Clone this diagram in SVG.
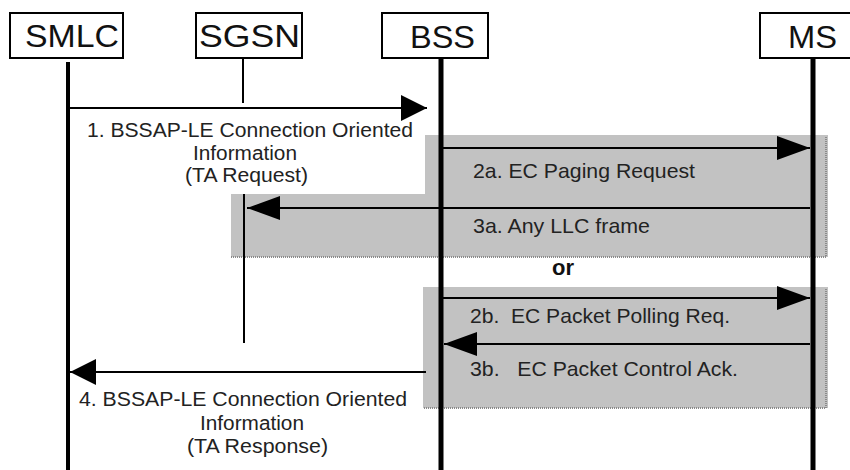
<svg xmlns="http://www.w3.org/2000/svg" width="850" height="470" viewBox="0 0 850 470">
  <style>
    .box { fill: #ffffff; stroke: #000000; stroke-width: 2; }
    .title { font-family: "Liberation Sans", Arial, sans-serif; font-size: 31px; fill: #111111; }
    .lbl { font-family: "Liberation Sans", Arial, sans-serif; font-size: 20px; fill: #222222; }
    .lbl2 { font-family: "Liberation Sans", Arial, sans-serif; font-size: 21px; fill: #222222; }
    .or { font-family: "Liberation Sans", Arial, sans-serif; font-size: 22px; font-weight: bold; fill: #111111; }
    .life { stroke: #000000; stroke-width: 5; fill: none; }
    .thin { stroke: #000000; stroke-width: 2; fill: none; }
    .msg { stroke: #000000; stroke-width: 2.2; fill: none; }
    .msgS { stroke: #000000; stroke-width: 2.2; fill: none; marker-end: url(#headS); }
    .msgL { stroke: #000000; stroke-width: 2.2; fill: none; marker-end: url(#headL); }
    .shade { fill: #c2c2c2; stroke: none; }
    .dots { stroke: #8a8a8a; stroke-width: 2; stroke-dasharray: 1 1; fill: none; }
  </style>
  <defs>
    <marker id="headS" markerUnits="userSpaceOnUse" markerWidth="27" markerHeight="27" refX="26" refY="13" orient="auto">
      <path d="M0,0 L26,13 L0,26 z" fill="#000000"/>
    </marker>
    <marker id="headL" markerUnits="userSpaceOnUse" markerWidth="34" markerHeight="25" refX="33" refY="12" orient="auto">
      <path d="M0,0 L33,12 L0,24 z" fill="#000000"/>
    </marker>
  </defs>

  <g id="shaded-regions">
    <polygon class="shade" points="425,135 828,135 828,257 231,257 231,194 425,194"/>
    <polyline class="dots" points="826,137 826,257 231,257"/>
    <rect class="shade" x="423" y="287" width="405" height="121"/>
    <polyline class="dots" points="826,289 826,408 423,408"/>
  </g>

  <g id="node-smlc">
    <rect class="box" x="10" y="13" width="113" height="45"/>
    <text class="title" x="25" y="47" textLength="94" lengthAdjust="spacingAndGlyphs">SMLC</text>
    <line class="life" x1="68" y1="62" x2="68" y2="470" style="stroke-width:4"/>
  </g>
  <g id="node-sgsn">
    <rect class="box" x="196" y="13" width="106" height="45"/>
    <text class="title" x="199" y="47" textLength="101" lengthAdjust="spacingAndGlyphs">SGSN</text>
    <line class="thin" x1="243" y1="58" x2="243" y2="103"/>
    <line class="thin" x1="244" y1="194" x2="244" y2="343"/>
  </g>
  <g id="node-bss">
    <rect class="box" x="382" y="13" width="106" height="45"/>
    <text class="title" x="410" y="48" textLength="65" lengthAdjust="spacingAndGlyphs">BSS</text>
    <line class="life" x1="441" y1="58" x2="441" y2="470"/>
  </g>
  <g id="node-ms">
    <rect class="box" x="760" y="13" width="100" height="45"/>
    <text class="title" x="788" y="48" textLength="49" lengthAdjust="spacingAndGlyphs">MS</text>
    <line class="life" x1="813" y1="58" x2="813" y2="470"/>
  </g>

  <g id="connectors">
    <line class="msgS" x1="68" y1="108" x2="427" y2="108"/>
    <line class="msgL" x1="443" y1="148" x2="810" y2="148"/>
    <line class="msgL" x1="810" y1="208" x2="247" y2="208"/>
    <line class="msgL" x1="443" y1="298" x2="810" y2="298"/>
    <line class="msgL" x1="810" y1="344" x2="444" y2="344"/>
    <line class="msgS" x1="426" y1="372" x2="70" y2="372"/>
  </g>

  <g id="labels">
    <text class="lbl" x="87" y="137" textLength="326" lengthAdjust="spacingAndGlyphs">1. BSSAP-LE Connection Oriented</text>
    <text class="lbl" x="193" y="160" textLength="104" lengthAdjust="spacingAndGlyphs">Information</text>
    <text class="lbl" x="185" y="182" textLength="123" lengthAdjust="spacingAndGlyphs">(TA Request)</text>
    <text class="lbl2" x="473" y="178" textLength="222" lengthAdjust="spacingAndGlyphs">2a. EC Paging Request</text>
    <text class="lbl2" x="473" y="233" textLength="177" lengthAdjust="spacingAndGlyphs">3a. Any LLC frame</text>
    <text class="or" x="552" y="275">or</text>
    <text class="lbl2" x="470" y="323" textLength="260" lengthAdjust="spacingAndGlyphs" xml:space="preserve">2b.  EC Packet Polling Req.</text>
    <text class="lbl2" x="470" y="376" textLength="268" lengthAdjust="spacingAndGlyphs" xml:space="preserve">3b.   EC Packet Control Ack.</text>
    <text class="lbl" x="79" y="406" textLength="328" lengthAdjust="spacingAndGlyphs">4. BSSAP-LE Connection Oriented</text>
    <text class="lbl" x="200" y="430" textLength="104" lengthAdjust="spacingAndGlyphs">Information</text>
    <text class="lbl" x="187" y="453" textLength="141" lengthAdjust="spacingAndGlyphs">(TA Response)</text>
  </g>
</svg>
